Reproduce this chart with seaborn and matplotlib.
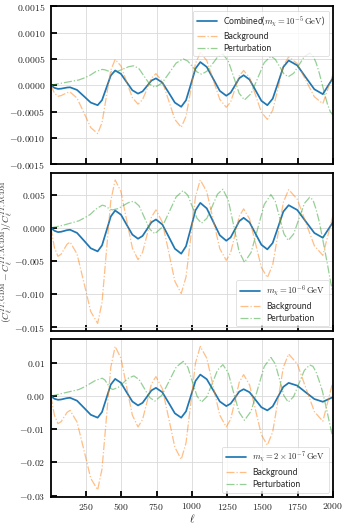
import numpy as np
import matplotlib
matplotlib.use("Agg")
import matplotlib.pyplot as plt
from matplotlib.ticker import FuncFormatter, MultipleLocator
import seaborn as sns

# ell positions (combined/background share turning points)
ell_bo = [2, 27, 52, 74, 95, 117, 138, 187, 236, 284, 333, 364, 395, 426, 457, 498, 538,
          579, 619, 651, 683, 714, 746, 791, 836, 880, 925, 959, 993, 1026, 1060, 1106,
          1152, 1198, 1244, 1275, 1306, 1336, 1367, 1409, 1451, 1493, 1535, 1573, 1611,
          1648, 1686, 1747, 1807, 1868, 1928, 1964, 2000]
ell_pert = [2, 50, 100, 150, 200, 240, 280, 320, 365, 384, 402, 421, 440, 478, 515, 553,
            590, 627, 664, 701, 738, 788, 839, 889, 939, 972, 1004, 1037, 1069, 1107, 1145,
            1182, 1220, 1258, 1297, 1335, 1373, 1420, 1467, 1513, 1560, 1591, 1622, 1652,
            1683, 1721, 1759, 1797, 1835, 1858, 1880, 1903, 1925, 1943, 1960, 1980, 2000]

# panel 1, m_chi = 1e-5 GeV (units of 1e-4)
comb_1 = np.array([0, -0.5, -0.7, -0.66, -0.55, -0.44, -0.4, -0.9, -2.1, -3.3, -3.8, -2.84,
                   -0.5, 1.84, 2.8, 2.16, 0.6, -0.96, -1.6, -1.18, -0.15, 0.88, 1.3, 0.51,
                   -1.4, -3.31, -4.1, -2.86, 0.15, 3.16, 4.4, 3.47, 1.2, -1.07, -2.0, -1.43,
                   -0.05, 1.33, 1.9, 1.07, -0.95, -2.97, -3.8, -2.56, 0.45, 3.46, 4.7, 3.77,
                   1.5, -0.77, -1.7, -0.15, 1.4]) * 1e-4
back_1 = np.array([0, -1.5, -2.1, -1.98, -1.7, -1.42, -1.3, -2.45, -5.25, -8.05, -9.2,
                   -7.14, -2.15, 2.84, 4.9, 3.66, 0.65, -2.36, -3.6, -2.75, -0.7, 1.35, 2.2,
                   0.71, -2.9, -6.51, -8.0, -5.93, -0.9, 4.13, 6.2, 4.68, 1.0, -2.68, -4.2,
                   -3.18, -0.7, 1.78, 2.8, 1.44, -1.85, -5.14, -6.5, -4.76, -0.55, 3.66, 5.4,
                   4.1, 0.95, -2.2, -3.5, -0.7, 2.1]) * 1e-4
pert_1 = np.array([0, 0.25, 0.5, 0.75, 1.0, 1.4, 1.9, 2.6, 3.0, 2.93, 2.75, 2.57, 2.5, 2.68,
                   3.1, 3.52, 3.7, 3.1, 1.65, 0.2, -0.4, 0.39, 2.3, 4.21, 5.0, 4.58, 3.55,
                   2.52, 2.1, 2.65, 4.0, 5.35, 5.9, 4.63, 1.55, -1.53, -2.8, -1.59, 1.35, 4.29,
                   5.5, 4.93, 3.55, 2.17, 1.6, 2.26, 3.85, 5.44, 6.1, 5.6, 4.3, 2.3, 0.0, -1.9,
                   -3.5, -5.0, -5.7]) * 1e-4

# panel 2, m_chi = 1e-6 GeV (units of 1e-3)
comb_2 = np.array([0, -0.45, -0.65, -0.6, -0.48, -0.35, -0.3, -0.77, -1.93, -3.08, -3.55,
                   -2.65, -0.48, 1.7, 2.6, 1.98, 0.48, -1.03, -1.65, -1.23, -0.2, 0.83, 1.25,
                   0.5, -1.33, -3.15, -3.9, -2.78, -0.08, 2.63, 3.75, 2.92, 0.9, -1.12, -1.95,
                   -1.45, -0.23, 1.0, 1.5, 0.81, -0.88, -2.56, -3.25, -2.28, 0.08, 2.43, 3.4,
                   2.68, 0.95, -0.78, -1.5, -0.33, 0.85]) * 1e-3
back_2 = np.array([0, -3.0, -4.3, -3.99, -3.23, -2.46, -2.15, -3.94, -8.28, -12.61, -14.4,
                   -11.25, -3.6, 4.05, 7.2, 5.45, 1.2, -3.05, -4.8, -3.71, -1.05, 1.61, 2.7,
                   0.86, -3.6, -8.06, -9.9, -7.4, -1.35, 4.7, 7.2, 5.43, 1.15, -3.13, -4.9,
                   -3.77, -1.03, 1.72, 2.85, 1.34, -2.33, -5.99, -7.5, -5.57, -0.88, 3.82,
                   5.75, 4.3, 0.8, -2.7, -4.15, -1.15, 1.85]) * 1e-3
pert_2 = np.array([0, 0.2, 0.45, 0.75, 1.05, 1.5, 2.0, 2.8, 3.4, 3.3, 3.05, 2.8, 2.7, 2.89,
                   3.35, 3.81, 4.0, 3.28, 1.55, -0.18, -0.9, 0.05, 2.35, 4.65, 5.6, 4.88, 3.15,
                   1.42, 0.7, 1.44, 3.25, 5.06, 5.8, 4.19, 0.3, -3.59, -5.2, -3.71, -0.1, 3.51,
                   5.0, 3.99, 1.55, -0.89, -1.9, -0.95, 1.35, 3.65, 4.6, 4.2, 2.8, 0.9, -1.5,
                   -3.5, -5.4, -7.8, -9.9]) * 1e-3

# panel 3, m_chi = 2e-7 GeV (units of 1e-3)
comb_3 = np.array([0, -0.8, -1.1, -1.01, -0.8, -0.59, -0.5, -1.38, -3.5, -5.62, -6.5, -4.79,
                   -0.65, 3.49, 5.2, 4.03, 1.2, -1.63, -2.8, -2.03, -0.15, 1.73, 2.5, 1.19,
                   -2.0, -5.19, -6.5, -4.6, 0.0, 4.6, 6.5, 5.11, 1.75, -1.61, -3.0, -2.26,
                   -0.45, 1.36, 2.1, 1.17, -1.1, -3.37, -4.3, -3.09, -0.15, 2.79, 4.0, 3.17,
                   1.15, -0.87, -1.7, -1.0, -0.3]) * 1e-3
back_3 = np.array([0, -5.8, -8.3, -7.72, -6.3, -4.88, -4.3, -7.8, -16.3, -24.8, -28.3,
                   -21.98, -6.65, 8.68, 15.0, 11.45, 2.85, -5.75, -9.3, -7.08, -1.7, 3.68,
                   5.9, 2.25, -6.6, -15.45, -19.1, -14.12, -2.05, 10.02, 15.0, 11.45, 2.85,
                   -5.75, -9.3, -6.99, -1.4, 4.19, 6.5, 3.39, -4.15, -11.69, -14.8, -10.79,
                   -1.05, 8.69, 12.7, 9.74, 2.55, -4.64, -7.6, -1.6, 4.5]) * 1e-3
pert_3 = np.array([0, 0.5, 1.0, 1.5, 2.0, 2.8, 3.8, 4.8, 5.4, 4.9, 3.7, 2.5, 2.0, 2.6, 4.05,
                   5.5, 6.1, 4.99, 2.3, -0.39, -1.5, 0.25, 4.5, 8.75, 10.5, 8.7, 4.35, 0.0,
                   -1.8, -0.15, 3.85, 7.85, 9.5, 7.05, 0.9, -4.85, -7.3, -4.53, 2.2, 8.93,
                   11.7, 9.73, 4.95, 0.17, -1.8, -0.16, 3.8, 7.76, 9.4, 9.0, 7.3, 4.5, 1.5,
                   -1.8, -5.0, -9.0, -12.8]) * 1e-3

labels = [r"Combined($m_\chi = 10^{-5}\,\mathrm{GeV}$)",
          r"$m_\chi = 10^{-6}\,\mathrm{GeV}$",
          r"$m_\chi = 2\times10^{-7}\,\mathrm{GeV}$"]
legend_loc = ["upper right", "lower right", "lower right"]
ytick_step = [0.0005, 0.005, 0.01]
ytick_dec = [4, 3, 2]

sns.set_style("whitegrid", {
    "axes.edgecolor": "black",
    "grid.color": "#d9d9d9",
    "xtick.direction": "in",
    "ytick.direction": "in",
    "xtick.bottom": True,
    "ytick.left": True,
})
plt.rcParams["mathtext.fontset"] = "cm"
plt.rcParams["font.family"] = ["Lato", "DejaVu Sans"]
plt.rcParams["axes.linewidth"] = 1.3

fig, axes = plt.subplots(3, 1, figsize=(3.44, 5.26), dpi=100, sharex=True)
fig.subplots_adjust(left=0.148, right=0.968, top=0.988, bottom=0.055, hspace=0.055)

panels = [(comb_1, back_1, pert_1), (comb_2, back_2, pert_2), (comb_3, back_3, pert_3)]
for i, (ax, (comb, back, pert)) in enumerate(zip(axes, panels)):
    sns.lineplot(x=ell_bo, y=comb, ax=ax, color="#1f77b4", lw=1.25, label=labels[i])
    sns.lineplot(x=ell_bo, y=back, ax=ax, color="#ff7f0e", lw=0.9, alpha=0.5,
                 linestyle="-.", label="Background")
    sns.lineplot(x=ell_pert, y=pert, ax=ax, color="#2ca02c", lw=0.9, alpha=0.5,
                 linestyle="-.", label="Perturbation")
    ax.set_xlim(2, 2000)
    if i == 0:
        ax.set_ylim(-0.0015, 0.0015)
    ax.yaxis.set_major_locator(MultipleLocator(ytick_step[i]))
    d = ytick_dec[i]
    ax.yaxis.set_major_formatter(FuncFormatter(lambda v, p, d=d: "$%.*f$" % (d, v)))
    ax.xaxis.set_major_locator(MultipleLocator(250))
    ax.xaxis.set_major_formatter(FuncFormatter(lambda v, p: "$%d$" % v))
    ax.tick_params(axis="both", length=4, width=1.3, labelsize=7, pad=4, color="black")
    ax.tick_params(axis="x", pad=3)
    ax.grid(True, lw=0.6)
    leg = ax.legend(loc=legend_loc[i], fontsize=6.2, frameon=True, handlelength=2.4,
                    borderpad=0.4, labelspacing=0.35, handletextpad=0.7)
    leg.get_frame().set_linewidth(0.5)

axes[1].set_ylabel(r"$(C_\ell^{TT,\mathrm{GDM}} - C_\ell^{TT,\Lambda\mathrm{CDM}})/C_\ell^{TT,\Lambda\mathrm{CDM}}$",
                   fontsize=7)
axes[1].yaxis.set_label_coords(-0.125, 0.5)
axes[2].set_xlabel(r"$\ell$", fontsize=8, labelpad=0)

fig.savefig("out.png", dpi=100)
